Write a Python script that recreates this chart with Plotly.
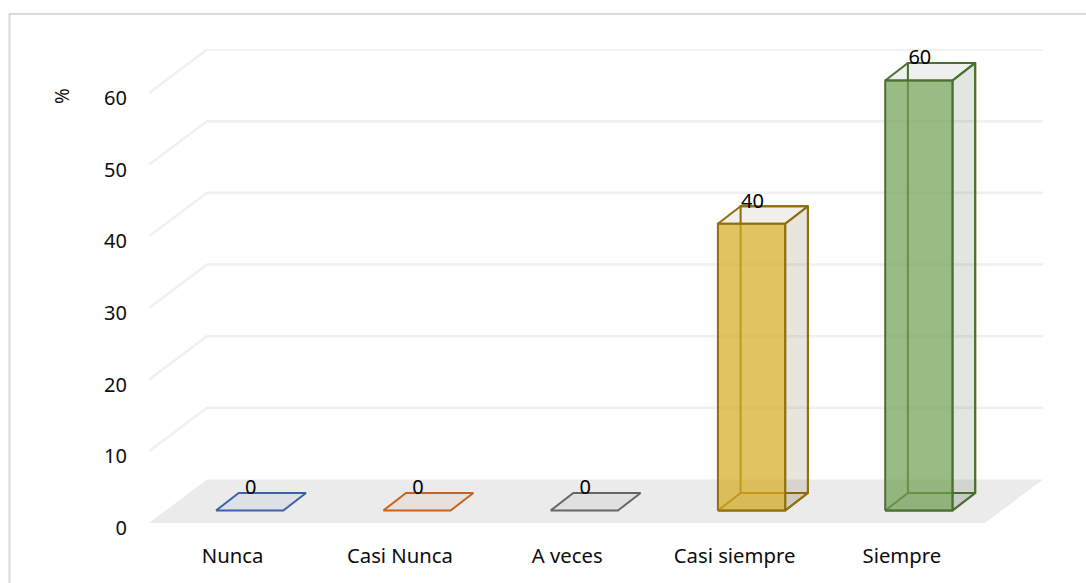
import plotly.graph_objects as go

categories = ["Nunca", "Casi Nunca", "A veces", "Casi siempre", "Siempre"]
values = [0, 0, 0, 40, 60]
y_ticks = [0, 10, 20, 30, 40, 50, 60]
shade_colors = ["47,85,151", "197,90,17", "89,89,89", "102,82,22", "62,88,55"]
front_colors = ["68,114,196", "237,125,49", "165,165,165", "214,169,32", "113,158,81"]
line_colors = ["#3d62a8", "#c8631e", "#666666", "#8f6f0c", "#4c7031"]

W, H = 1086, 583
L, R, T, B = 149, 1043, 49, 523.5
XU = 167.3          # px per category
YU = 7.175          # px per percent
X0, X1 = -0.5, -0.5 + (R - L) / XU
Y0, Y1 = 0, (B - T) / YU
FLOOR_DX, FLOOR_DY = 58 / XU, 43.5 / YU
BAR_CX, BAR_BASE = 17.0 / XU, 12.5 / YU
BAR_W = 67.3 / XU
BAR_DX, BAR_DY = 22.7 / XU, 17.6 / YU
LABEL_DX, LABEL_DY = 1.0 / XU, 0.52
FONT = "Noto Sans"

fig = go.Figure()


def poly(xs, ys, fill=None, line=None, width=2):
    fig.add_trace(go.Scatter(
        x=xs + xs[:1], y=ys + ys[:1], mode="lines",
        fill="toself" if fill else None, fillcolor=fill,
        line=dict(color=line or "rgba(0,0,0,0)", width=width if line else 0),
        hoverinfo="skip", showlegend=False, cliponaxis=False,
    ))


# floor
poly([X0, X0 + FLOOR_DX, X1, X1 - FLOOR_DX], [Y0, FLOOR_DY, FLOOR_DY, Y0], fill="#ebebeb")

# gridlines
for t in y_ticks[1:]:
    fig.add_trace(go.Scatter(
        x=[X0, X0 + FLOOR_DX, X1], y=[t, t + FLOOR_DY, t + FLOOR_DY], mode="lines",
        line=dict(color="#f0f0f0", width=2.5), hoverinfo="skip", showlegend=False, cliponaxis=False,
    ))

# 3D columns
for i, v in enumerate(values):
    xa = i + BAR_CX - BAR_W / 2
    xb = xa + BAR_W
    ya = BAR_BASE
    yb = BAR_BASE + v
    dx, dy = BAR_DX, BAR_DY
    lc = line_colors[i]
    sc = shade_colors[i]
    # bottom face
    poly([xa, xb, xb + dx, xa + dx], [ya, ya, ya + dy, ya + dy], fill=f"rgba({sc},0.07)", line=lc)
    if v > 0:
        # back and left hidden edges
        poly([xa + dx, xb + dx, xb + dx, xa + dx], [ya + dy, ya + dy, yb + dy, yb + dy], line=lc)
        # right side face
        poly([xb, xb + dx, xb + dx, xb], [ya, ya + dy, yb + dy, yb], fill=f"rgba({sc},0.15)", line=lc)
        # top face
        poly([xa, xb, xb + dx, xa + dx], [yb, yb, yb + dy, yb + dy], fill=f"rgba({sc},0.09)", line=lc)
        # front face
        poly([xa, xb, xb, xa], [ya, ya, yb, yb], fill=f"rgba({front_colors[i]},0.7)", line=lc)

# data labels
fig.add_trace(go.Scatter(
    x=[i + BAR_CX + LABEL_DX for i in range(len(values))],
    y=[BAR_BASE + BAR_DY + v + LABEL_DY for v in values],
    mode="text", text=[str(v) for v in values], textposition="middle center",
    textfont=dict(family=FONT, size=20, color="#000000"),
    hoverinfo="skip", showlegend=False, cliponaxis=False,
))

px_x = lambda p: (p - L) / (R - L)
px_y = lambda p: (B - p) / (B - T)

fig.update_layout(
    width=W, height=H, autosize=False,
    margin=dict(l=L, r=W - R, t=T, b=H - B, pad=0),
    paper_bgcolor="white", plot_bgcolor="white",
    font=dict(family=FONT, size=20, color="#0d0d0d"),
    showlegend=False,
    xaxis=dict(
        range=[X0, X1], tickmode="array", tickvals=list(range(len(categories))), ticktext=categories,
        showgrid=False, zeroline=False, showline=False, ticks="outside", ticklen=15,
        tickcolor="rgba(0,0,0,0)", tickfont=dict(family=FONT, size=20.3, color="#0d0d0d"),
        automargin=False,
    ),
    yaxis=dict(
        range=[Y0, Y1], tickmode="array", tickvals=y_ticks,
        showgrid=False, zeroline=False, showline=False, ticks="outside", ticklen=17,
        tickcolor="rgba(0,0,0,0)", tickfont=dict(family=FONT, size=20, color="#0d0d0d"),
        ticklabelshift=5, automargin=False,
    ),
    annotations=[dict(
        text="%", textangle=-90, x=px_x(62), y=px_y(96), xref="paper", yref="paper",
        showarrow=False, xanchor="center", yanchor="middle",
        font=dict(family=FONT, size=19, color="#0d0d0d"),
    )],
    shapes=[dict(
        type="rect", xref="paper", yref="paper", layer="below",
        x0=px_x(9.5), x1=px_x(1100), y0=px_y(14), y1=px_y(600),
        line=dict(color="#d9d9d9", width=2),
    )],
)

fig.write_html("out.html", post_script="document.body.style.margin='0';", config=dict(displayModeBar=False))
